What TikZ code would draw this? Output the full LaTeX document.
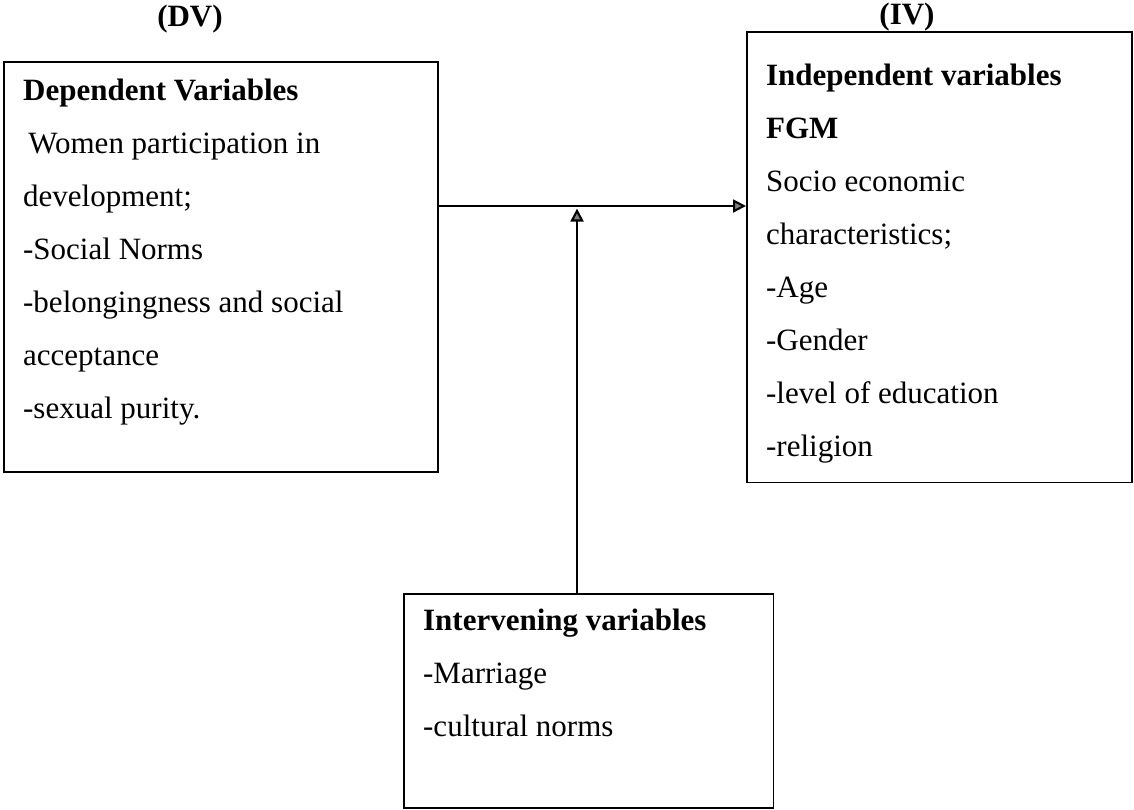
\documentclass[tikz,border=0pt]{standalone}
\usepackage{fontspec}
\setmainfont{Liberation Serif}
\usetikzlibrary{arrows.meta}
\tikzset{
  varbox/.style={draw, line width=0.6pt, anchor=north west, inner xsep=7.5pt, inner ysep=0pt,
    font=\fontsize{12}{20.5}\selectfont},
  tag/.style={font=\fontsize{12}{14}\selectfont\bfseries},
  link/.style={line width=0.8pt, -{Triangle[length=5pt,width=5pt,fill=gray]}}
}
\newcommand{\boxtext}[4]{\begin{minipage}[t][#1][t]{#2}\vspace*{#3}\raggedright #4\end{minipage}}
\begin{document}
\begin{tikzpicture}[x=0.387pt, y=-0.387pt]
  \useasboundingbox (0,0) rectangle (1134,809);
  % headings
  \node[tag] (dvtag) at (190,19) {(DV)};
  \node[tag] (ivtag) at (907,17) {(IV)};
  % boxes
  \node[varbox] (dv) at (3,61) {\boxtext{158.7pt}{153pt}{0.75pt}{%
    \strut\textbf{Dependent Variables}\\
    \hspace{2pt}Women participation in\\
    development;\\
    -Social Norms\\
    -belongingness and social\\
    acceptance\\
    -sexual purity.}};
  \node[varbox] (iv) at (746,31) {\boxtext{174.5pt}{134pt}{6.5pt}{%
    \strut\textbf{Independent variables}\\
    \textbf{FGM}\\
    Socio economic\\
    characteristics;\\
    -Age\\
    -Gender\\
    -level of education\\
    -religion}};
  \node[varbox] (int) at (403,593) {\boxtext{82.8pt}{128pt}{0pt}{%
    \strut\textbf{Intervening variables}\\
    -Marriage\\
    -cultural norms}};
  % connectors
  \coordinate (meet) at (577,206);
  \draw[link] (dv.east |- meet) -- (iv.west |- meet);
  \draw[link, shorten >=1pt] (int.north -| meet) -- (meet);
\end{tikzpicture}
\end{document}
